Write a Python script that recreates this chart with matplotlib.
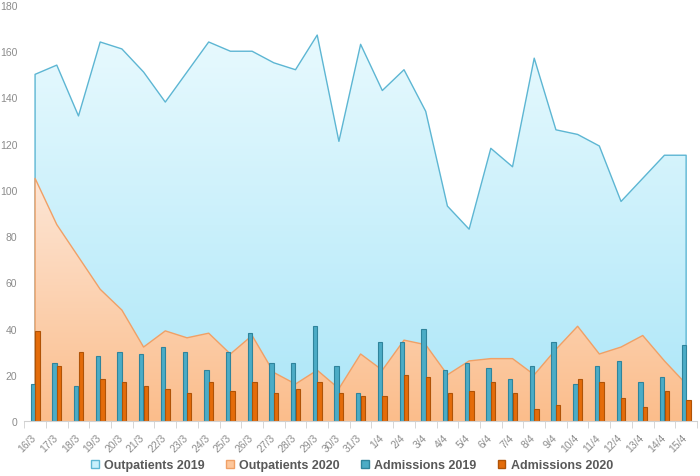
import numpy as np
import matplotlib
matplotlib.use('Agg')
import matplotlib.pyplot as plt
import matplotlib.transforms as mtransforms
from matplotlib.patches import Polygon, Patch
from matplotlib.colors import LinearSegmentedColormap

##
## data
dates = ['16/3', '17/3', '18/3', '19/3', '20/3', '21/3', '22/3', '23/3', '24/3', '25/3',
         '26/3', '27/3', '28/3', '29/3', '30/3', '31/3', '1/4', '2/4', '3/4', '4/4',
         '5/4', '6/4', '7/4', '8/4', '9/4', '10/4', '11/4', '12/4', '13/4', '14/4', '15/4']

out_2019 = [150, 154, 132, 164, 161, 151, 138, 151, 164, 160,
            160, 155, 152, 167, 121, 163, 143, 152, 134, 93,
            83, 118, 110, 157, 126, 124, 119, 95, 105, 115, 115]
out_2020 = [105, 85, 71, 57, 48, 32, 39, 36, 38, 29,
            37, 21, 16, 22, 14, 29, 22, 35, 33, 20,
            26, 27, 27, 20, 31, 41, 29, 32, 37, 26, 16]
adm_2019 = [16, 25, 15, 28, 30, 29, 32, 30, 22, 30,
            38, 25, 25, 41, 24, 12, 34, 34, 40, 22,
            25, 23, 18, 24, 34, 16, 24, 26, 17, 19, 33]
adm_2020 = [39, 24, 30, 18, 17, 15, 14, 12, 17, 13,
            17, 12, 14, 17, 12, 11, 11, 20, 19, 12,
            13, 17, 12, 5, 7, 18, 17, 10, 6, 13, 9]

legend_labels = ['Outpatients 2019', 'Outpatients 2020', 'Admissions 2019', 'Admissions 2020']

font = ['Liberation Sans Narrow', 'Liberation Sans', 'DejaVu Sans']
x = np.arange(len(dates))

fig = plt.figure(figsize=(7, 4.77), dpi=100)
ax = fig.add_axes([0.0346, 0.1153, 0.9611, 0.8721])
ax.set_xlim(-0.5, len(dates) - 0.5)
ax.set_ylim(0, 180)


def gradient_area(vals, top_col, bot_col, line_col, ztop, z):
    verts = [(x[0], 0)] + list(zip(x, vals)) + [(x[-1], 0)]
    poly = Polygon(verts, closed=True, facecolor='none', edgecolor='none', transform=ax.transData)
    ax.add_patch(poly)
    cmap = LinearSegmentedColormap.from_list('g', [bot_col, top_col])
    grad = np.linspace(0, 1, 256).reshape(-1, 1)
    im = ax.imshow(grad, cmap=cmap, aspect='auto', origin='lower',
                   extent=(x[0], x[-1], 0, ztop), zorder=z)
    im.set_clip_path(poly)
    ax.plot([x[0]] + list(x) + [x[-1]], [0] + list(vals) + [0],
            color=line_col, lw=1.0, zorder=z + 0.5)


gradient_area(out_2019, '#e9fafe', '#abe6f8', '#5db6d3', 170, 1)
gradient_area(out_2020, '#fde6d6', '#fbbd8b', '#f0a066', 105, 2)

w = 0.2
ax.bar(x - 0.105, adm_2019, width=w, color='#4bacc6', edgecolor='#2f849c', lw=0.8, zorder=3)
ax.bar(x + 0.105, adm_2020, width=w, color='#e46c0a', edgecolor='#b05306', lw=0.8, zorder=3)

# axes styling
for s in ['top', 'right', 'left']:
    ax.spines[s].set_visible(False)
ax.spines['bottom'].set_color('#d0d0d0')
ax.spines['bottom'].set_zorder(4)

ax.set_yticks(range(0, 181, 20))
ax.tick_params(axis='y', length=0, pad=5, labelcolor='#8c8c8c', labelsize=7.5)
ax.set_xticks(x)
ax.set_xticklabels(dates, rotation=45, ha='right', rotation_mode='anchor',
                   color='#8c8c8c', fontsize=7.5)
ax.tick_params(axis='x', length=0, pad=8)
ax.set_xticks(np.arange(-0.5, len(dates)), minor=True)
ax.tick_params(axis='x', which='minor', length=5, color='#d0d0d0')
shift = mtransforms.ScaledTranslation(-4 / 100, 0, fig.dpi_scale_trans)
for lab in ax.get_xticklabels():
    lab.set_transform(lab.get_transform() + shift)
for lab in ax.get_yticklabels() + ax.get_xticklabels():
    lab.set_family(font)

handles = [Patch(facecolor='#c8f0fc', edgecolor='#5db6d3'),
           Patch(facecolor='#fdc79c', edgecolor='#f0a066'),
           Patch(facecolor='#4bacc6', edgecolor='#2f849c'),
           Patch(facecolor='#e46c0a', edgecolor='#b05306')]
fig.legend(handles, legend_labels, loc='center', bbox_to_anchor=(0.503, 0.023), ncol=4,
           frameon=False, handlelength=0.6, handleheight=0.6, handletextpad=0.45,
           columnspacing=1.7, borderpad=0,
           prop={'family': font, 'weight': 'bold', 'size': 9}, labelcolor='#595959')

plt.savefig('out.png', dpi=100)
